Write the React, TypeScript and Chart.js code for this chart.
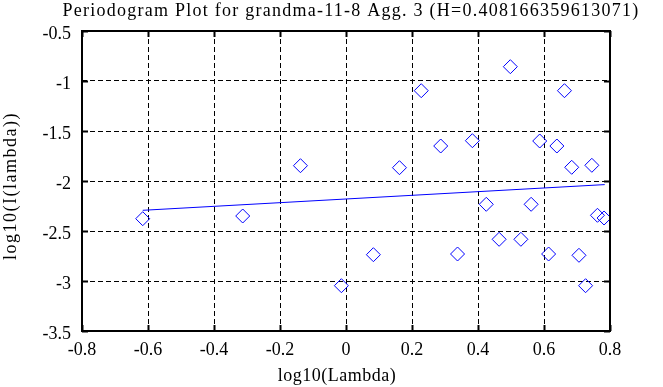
import React, { useEffect, useRef } from 'react';
import { Chart, registerables } from 'chart.js';

Chart.register(...registerables);

const TITLE = 'Periodogram Plot for grandma-11-8 Agg. 3 (H=0.408166359613071)';
const X_LABEL = 'log10(Lambda)';
const Y_LABEL = 'log10(I(lambda))';

const logLambda = [
  -0.616, -0.313, -0.138, -0.014, 0.083, 0.162, 0.228, 0.287, 0.338, 0.383,
  0.425, 0.464, 0.498, 0.53, 0.561, 0.587, 0.614, 0.639, 0.662, 0.684,
  0.706, 0.726, 0.745, 0.762, 0.782,
];
const logI = [
  -2.377, -2.35, -1.847, -3.047, -2.737, -1.867, -1.097, -1.65, -2.73, -1.597,
  -2.233, -2.583, -0.857, -2.583, -2.233, -1.6, -2.73, -1.65, -1.097, -1.863,
  -2.743, -3.047, -1.843, -2.343, -2.37,
];
const fitX = [-0.616, 0.784];
const fitY = [-2.293, -2.036];

const xTicks = [-0.8, -0.6, -0.4, -0.2, 0, 0.2, 0.4, 0.6, 0.8];
const yTicks = [-3.5, -3, -2.5, -2, -1.5, -1, -0.5];

const FONT = "'Liberation Serif', 'Times New Roman', serif";
const BLUE = '#0000ff';

const boxPlugin = {
  id: 'boxAndInnerTicks',
  afterDraw(chart: any) {
    const { ctx, chartArea } = chart;
    const { left, right, top, bottom } = chartArea;
    const xs = chart.scales.x;
    const ys = chart.scales.y;
    const len = 6;
    ctx.save();
    ctx.strokeStyle = '#000';
    ctx.lineWidth = 2;
    ctx.setLineDash([]);
    ctx.beginPath();
    xTicks.forEach((v) => {
      const px = Math.round(xs.getPixelForValue(v)) + 0.5;
      ctx.moveTo(px, bottom);
      ctx.lineTo(px, bottom - len);
      ctx.moveTo(px, top);
      ctx.lineTo(px, top + len);
    });
    yTicks.forEach((v) => {
      const py = Math.round(ys.getPixelForValue(v)) + 0.5;
      ctx.moveTo(left, py);
      ctx.lineTo(left + len, py);
      ctx.moveTo(right, py);
      ctx.lineTo(right - len, py);
    });
    ctx.stroke();
    ctx.strokeRect(left, top, right - left, bottom - top);

    // Titles (text with looser letter spacing, like the reference font)
    ctx.fillStyle = '#000';
    ctx.textAlign = 'center';
    ctx.textBaseline = 'middle';
    ctx.font = `18px ${FONT}`;
    ctx.letterSpacing = '1.25px';
    ctx.fillText(TITLE, 351, 11);
    ctx.letterSpacing = '0.5px';
    ctx.fillText(X_LABEL, 337, 376);
    ctx.letterSpacing = '1.5px';
    ctx.translate(11, 186);
    ctx.rotate(-Math.PI / 2);
    ctx.fillText(Y_LABEL, 0, 0);
    ctx.restore();
  },
};

export default function App() {
  const ref = useRef<HTMLCanvasElement | null>(null);

  useEffect(() => {
    if (!ref.current) return;
    const chart = new Chart(ref.current, {
      type: 'scatter',
      data: {
        datasets: [
          {
            type: 'scatter',
            data: logLambda.map((x, i) => ({ x, y: logI[i] })),
            pointStyle: 'rectRot',
            pointRadius: 7,
            pointBorderWidth: 1,
            pointBorderColor: BLUE,
            pointBackgroundColor: 'rgba(0,0,0,0)',
            showLine: false,
          },
          {
            type: 'line',
            data: fitX.map((x, i) => ({ x, y: fitY[i] })),
            borderColor: BLUE,
            borderWidth: 1,
            pointRadius: 0,
            fill: false,
          } as any,
        ],
      },
      options: {
        animation: false,
        responsive: false,
        devicePixelRatio: 1,
        events: [],
        layout: { padding: { left: 0, right: 53, top: 31, bottom: 0 } },
        plugins: {
          legend: { display: false },
          tooltip: { enabled: false },
          title: { display: false },
        },
        scales: {
          x: {
            type: 'linear',
            min: -0.8,
            max: 0.8,
            afterBuildTicks: (s: any) => {
              s.ticks = xTicks.map((value) => ({ value }));
            },
            afterFit: (s: any) => {
              s.height = 56;
            },
            grid: { color: '#000', lineWidth: 1, drawTicks: false },
            border: { display: false, dash: [5, 3] },
            ticks: {
              color: '#000',
              font: { family: FONT, size: 18 },
              padding: 8,
              maxRotation: 0,
              autoSkip: false,
              callback: (v: any) => String(v),
            },
          },
          y: {
            type: 'linear',
            min: -3.5,
            max: -0.5,
            afterBuildTicks: (s: any) => {
              s.ticks = yTicks.map((value) => ({ value }));
            },
            afterFit: (s: any) => {
              s.width = 82;
            },
            grid: { color: '#000', lineWidth: 1, drawTicks: false },
            border: { display: false, dash: [5, 3] },
            ticks: {
              color: '#000',
              font: { family: FONT, size: 18 },
              padding: 11,
              labelOffset: 3,
              autoSkip: false,
              callback: (v: any) => String(v),
            },
          },
        },
      },
      plugins: [boxPlugin],
    } as any);
    return () => chart.destroy();
  }, []);

  return (
    <div style={{ position: 'fixed', left: 0, top: 0, width: 663, height: 387, background: '#fff' }}>
      <canvas ref={ref} width={663} height={387} style={{ display: 'block' }} />
    </div>
  );
}
